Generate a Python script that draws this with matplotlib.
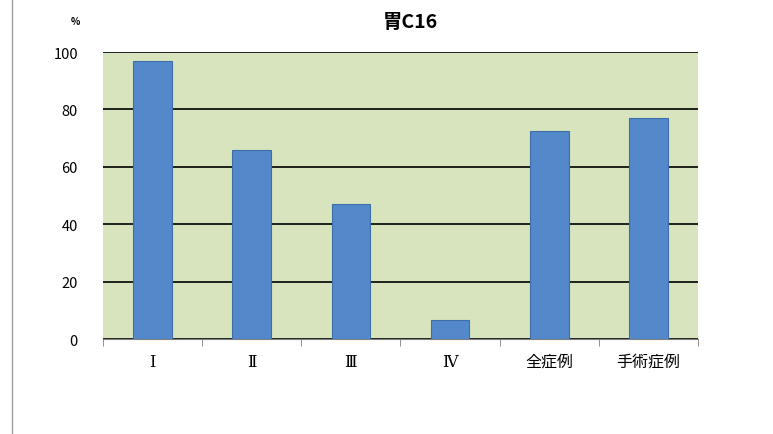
import matplotlib.pyplot as plt
import numpy as np

plt.rcParams['font.family'] = ['Noto Sans CJK JP', 'DejaVu Sans']

categories = ['Ⅰ', 'Ⅱ', 'Ⅲ', 'Ⅳ', '全症例', '手術症例']
values = [97, 66, 47, 6.5, 72.5, 77]

fig = plt.figure(figsize=(7.73, 4.35), dpi=100)
ax = fig.add_axes([103/773, 1-340/435, (698-103)/773, (340-53)/435])
ax.set_facecolor('#d7e4bd')

x = np.arange(len(categories))
ax.bar(x, values, width=0.39, color='#5389cb', edgecolor='#3f6ea6', linewidth=0.8, zorder=3)

ax.set_xlim(-0.5, len(categories)-0.5)
ax.set_ylim(0, 100)
ax.set_yticks(range(0, 101, 20))
ax.yaxis.grid(True, color='black', linewidth=1.2, zorder=1)
ax.set_axisbelow(True)
ax.tick_params(axis='y', length=0, labelsize=10.5, pad=18)

ax.set_xticks(x)
ax.set_xticklabels(categories, fontsize=11.5)
for lab in ax.get_xticklabels()[:4]:
    lab.set_family(['DejaVu Serif', 'Noto Sans CJK JP'])
ax.set_xticks(np.arange(-0.5, len(categories)), minor=True)
ax.tick_params(axis='x', which='major', length=0, pad=10)
ax.tick_params(axis='x', which='minor', length=5, color='#808080')

for s in ['left', 'right', 'top']:
    ax.spines[s].set_visible(False)
ax.spines['bottom'].set_color('#808080')

fig.text(410/773, 1-22/435, '胃C16', ha='center', va='center', fontsize=14, fontweight='bold')
fig.text(75/773, 1-22/435, '%', ha='center', va='center', fontsize=7, fontweight='bold')

# chart frame line on the left
fig.add_artist(plt.Line2D([12/773, 12/773], [0, 1], color='#a0a0a0', linewidth=1))

fig.savefig('out.png', dpi=100)
